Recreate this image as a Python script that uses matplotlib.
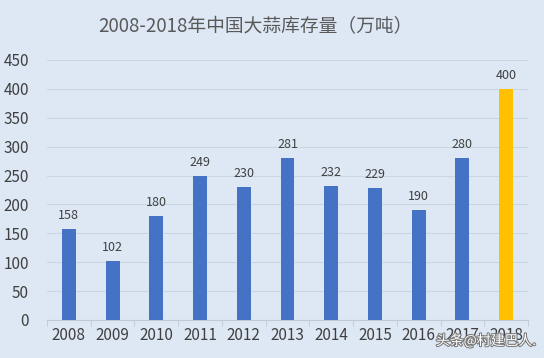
import matplotlib
matplotlib.use("Agg")
import matplotlib.pyplot as plt
import matplotlib.patheffects as pe
import numpy as np

plt.rcParams['font.family'] = ['Noto Sans CJK SC', 'DejaVu Sans']

years = ['2008', '2009', '2010', '2011', '2012', '2013', '2014', '2015', '2016', '2017', '2018']
stock = [158, 102, 180, 249, 230, 281, 232, 229, 190, 280, 400]
colors = ['#4472c4'] * 10 + ['#ffc000']
title = '2008-2018年中国大蒜库存量（万吨）'
watermark = '头条@村建巴人.'

bg = '#dde8f4'
fig = plt.figure(figsize=(5.44, 3.58), dpi=100, facecolor=bg)
ax = fig.add_axes([47/544, 1 - 320/358, 481/544, 260/358], facecolor=bg)

x = np.arange(len(years))
ax.bar(x, stock, width=0.32, color=colors, zorder=3)
for xi, v in zip(x, stock):
    ax.text(xi, v + 12, str(v), ha='center', va='bottom', fontsize=9, color='#404040')

ax.set_xlim(-0.5, len(years) - 0.5)
ax.set_ylim(0, 450)
ax.set_yticks(np.arange(0, 451, 50))
ax.yaxis.grid(True, color='#cbd6e4', linewidth=0.8, zorder=0)
ax.set_xticks(x)
ax.set_xticklabels(years)
ax.set_xticks(np.arange(-0.5, len(years), 1), minor=True)
ax.tick_params(axis='x', which='major', length=0, labelsize=11, labelcolor='#404040', pad=5)
ax.tick_params(axis='x', which='minor', length=4, color='#c0c8d4')
ax.tick_params(axis='y', length=0, labelsize=11, labelcolor='#404040', pad=13)
for s in ['top', 'right', 'left']:
    ax.spines[s].set_visible(False)
ax.spines['bottom'].set_color('#c0c8d4')

fig.text(255/544, 1 - 27/358, title, ha='center', va='center', fontsize=13.5, color='#595959')
fig.text(486/544, 1 - 341/358, watermark, ha='center', va='center', fontsize=10, color='white',
         path_effects=[pe.withStroke(linewidth=1.5, foreground='#777777')])

fig.savefig('out.png', dpi=100, facecolor=bg)
